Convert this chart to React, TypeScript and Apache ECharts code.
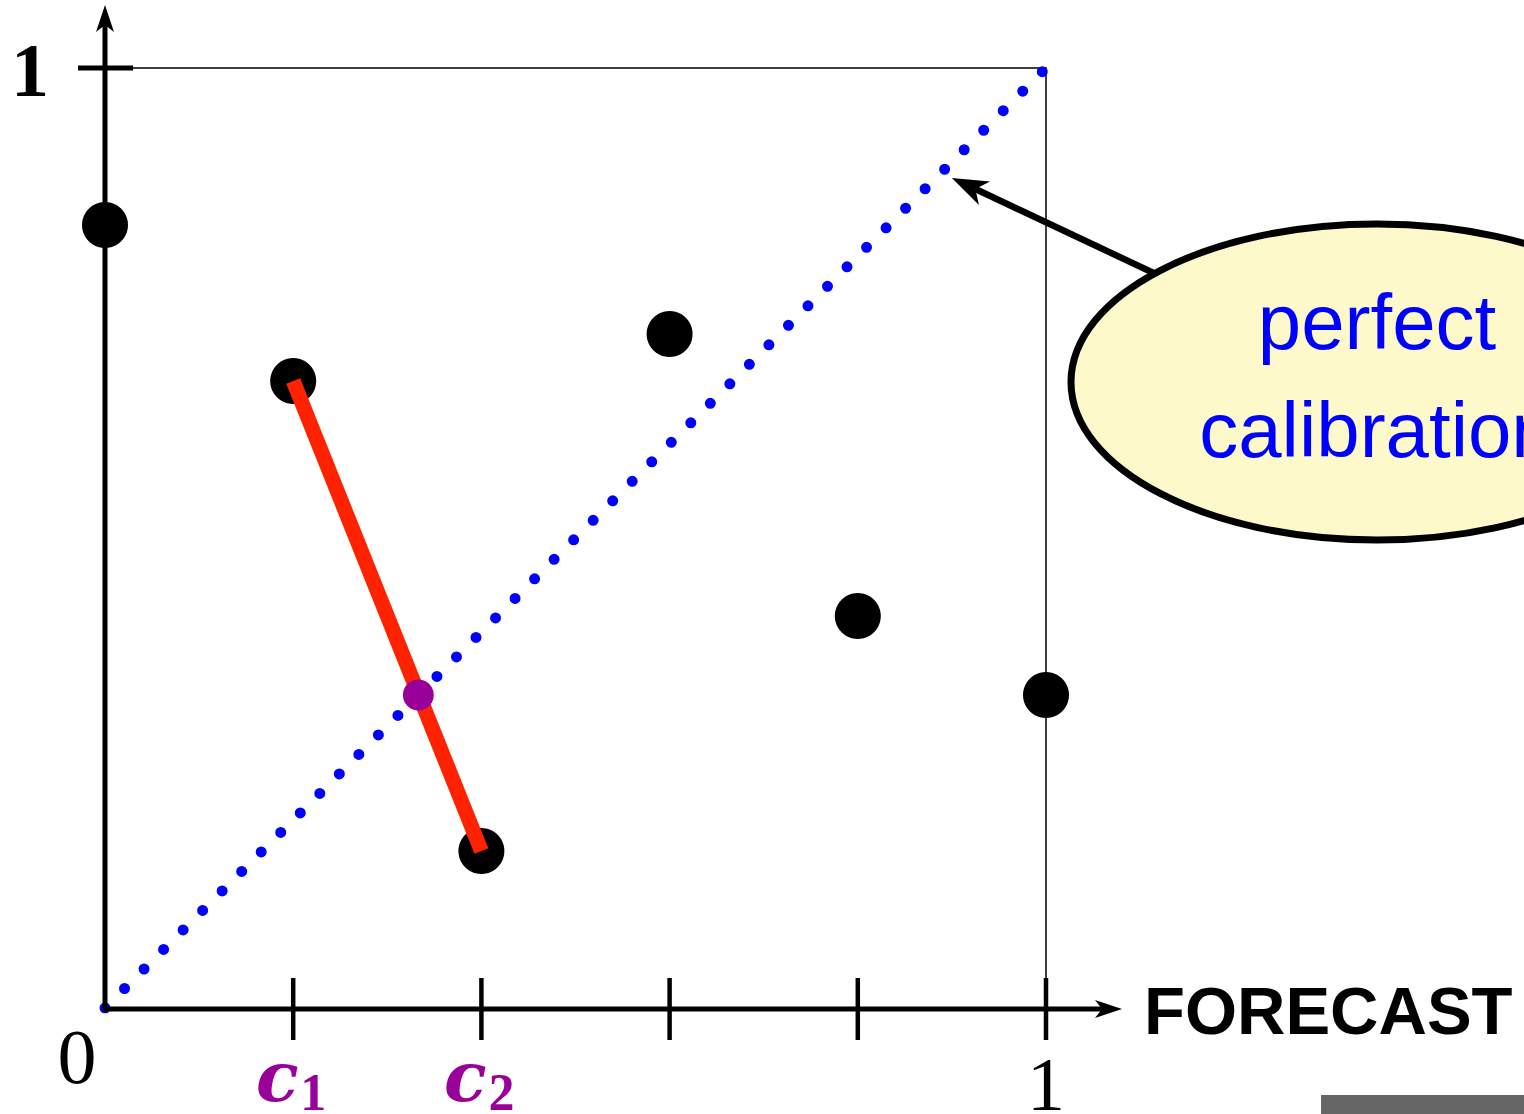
import React, { useEffect, useRef } from "react";
import * as echarts from "echarts";

// Observed frequency for each forecast bin
const forecastBins = [0, 0.2, 0.4, 0.6, 0.8, 1.0];
const observedFreq = [0.833, 0.667, 0.167, 0.717, 0.417, 0.333];

// Pooled pair of adjacent bins (c1, c2) and the point where their segment meets the diagonal
const pooledFrom = [0.2, 0.667];
const pooledTo = [0.4, 0.167];
const pooledCross = [0.333, 0.333];

// Perfect calibration diagonal
const diagonal = [
  [0, 0],
  [1, 1],
];

const xTickValues = [0.2, 0.4, 0.6, 0.8, 1.0];
const calloutTip = [0.9, 0.883];

const BLACK = "#000";
const PURPLE = "#990099";
const BLUE = "#0000ff";

export default function App() {
  const ref = useRef<HTMLDivElement>(null);

  useEffect(() => {
    const el = ref.current;
    if (!el) return;
    const chart = echarts.init(el, null, { renderer: "svg" });

    const hiddenAxis = {
      type: "value" as const,
      min: 0,
      max: 1,
      interval: 0.2,
      axisLine: { show: false },
      axisTick: { show: false },
      axisLabel: { show: false },
      splitLine: { show: false },
    };

    chart.setOption({
      animation: false,
      backgroundColor: "#fff",
      grid: {
        left: 105,
        top: 68,
        width: 941,
        height: 940,
        show: true,
        borderColor: BLACK,
        borderWidth: 1.5,
        backgroundColor: "transparent",
      },
      xAxis: hiddenAxis,
      yAxis: hiddenAxis,
      series: [
        {
          type: "line",
          data: diagonal,
          showSymbol: false,
          z: 2,
          lineStyle: { color: BLUE, width: 11, type: [0, 27.6], cap: "round" },
          silent: true,
        },
        {
          type: "scatter",
          data: forecastBins.map((x, i) => [x, observedFreq[i]]),
          symbolSize: 46,
          itemStyle: { color: BLACK, opacity: 1 },
          z: 3,
          silent: true,
        },
        {
          type: "line",
          data: [pooledFrom, pooledTo],
          showSymbol: false,
          z: 4,
          lineStyle: { color: "#ff2200", width: 15, cap: "butt" },
          silent: true,
        },
        {
          type: "scatter",
          data: [pooledCross],
          symbolSize: 31,
          itemStyle: { color: PURPLE, opacity: 1 },
          z: 5,
          silent: true,
        },
      ],
    });

    const px = (v: number[]) => chart.convertToPixel({ gridIndex: 0 }, v) as number[];
    const [x0, y0] = px([0, 0]);
    const [, y1] = px([0, 1]);

    const graphics: any[] = [];

    // axes with arrowheads
    graphics.push({
      type: "line",
      shape: { x1: x0, y1: y0 + 3.5, x2: x0, y2: 14 },
      style: { stroke: BLACK, lineWidth: 5 },
      z: 10,
    });
    graphics.push({
      type: "polygon",
      shape: { points: [[x0, 5], [x0 - 9, 32], [x0, 25], [x0 + 9, 32]] },
      style: { fill: BLACK },
      z: 10,
    });
    graphics.push({
      type: "line",
      shape: { x1: x0 - 2.5, y1: y0 + 1, x2: 1112, y2: y0 + 1 },
      style: { stroke: BLACK, lineWidth: 5 },
      z: 10,
    });
    graphics.push({
      type: "polygon",
      shape: {
        points: [[1122, y0 + 1], [1095, y0 - 8], [1102, y0 + 1], [1095, y0 + 10]],
      },
      style: { fill: BLACK },
      z: 10,
    });

    // x ticks crossing the axis
    xTickValues.forEach((v) => {
      const [tx] = px([v, 0]);
      graphics.push({
        type: "line",
        shape: { x1: tx, y1: y0 - 30, x2: tx, y2: y0 + 32 },
        style: { stroke: BLACK, lineWidth: 4.5 },
        z: 10,
      });
    });
    // y tick at 1
    graphics.push({
      type: "line",
      shape: { x1: x0 - 27, y1: y1, x2: x0 + 28, y2: y1 },
      style: { stroke: BLACK, lineWidth: 5 },
      z: 10,
    });

    // axis labels
    const serif = "'Liberation Serif', 'DejaVu Serif', serif";
    graphics.push({
      type: "text",
      style: {
        text: "0",
        x: x0 - 28,
        y: y0 + 48,
        font: `78px ${serif}`,
        fill: BLACK,
        align: "center",
        verticalAlign: "middle",
      },
      z: 10,
    });
    graphics.push({
      type: "text",
      style: {
        text: "1",
        x: 30,
        y: y1 + 2,
        font: `bold 76px ${serif}`,
        fill: BLACK,
        align: "center",
        verticalAlign: "middle",
      },
      z: 10,
    });
    const [x1px] = px([1, 0]);
    graphics.push({
      type: "text",
      style: {
        text: "1",
        x: x1px,
        y: y0 + 76,
        font: `76px ${serif}`,
        fill: BLACK,
        align: "center",
        verticalAlign: "middle",
      },
      z: 10,
    });
    [
      [0.2, "1"],
      [0.4, "2"],
    ].forEach(([v, sub]) => {
      const [cx] = px([v as number, 0]);
      graphics.push({
        type: "text",
        style: {
          text: "c",
          x: cx - 16,
          y: y0 + 68,
          font: `italic bold 70px 'DejaVu Serif', serif`,
          fill: PURPLE,
          align: "center",
          verticalAlign: "middle",
        },
        z: 10,
      });
      graphics.push({
        type: "text",
        style: {
          text: sub as string,
          x: cx + 20,
          y: y0 + 84,
          font: `bold 52px ${serif}`,
          fill: PURPLE,
          align: "center",
          verticalAlign: "middle",
        },
        z: 10,
      });
    });
    graphics.push({
      type: "text",
      style: {
        text: "FORECAST",
        x: 1144,
        y: y0 + 2,
        font: `bold 67px 'Liberation Sans', Arial, sans-serif`,
        fill: BLACK,
        align: "left",
        verticalAlign: "middle",
      },
      z: 10,
    });

    // callout pointing at the diagonal
    const [tipX, tipY] = px(calloutTip);
    const startX = 1160;
    const startY = 276;
    const dx = tipX - startX;
    const dy = tipY - startY;
    const len = Math.hypot(dx, dy);
    const ux = dx / len;
    const uy = dy / len;
    const nx = -uy;
    const ny = ux;
    const back = 36;
    const half = 13;
    const notch = 26;
    graphics.push({
      type: "line",
      shape: { x1: startX, y1: startY, x2: tipX - ux * notch, y2: tipY - uy * notch },
      style: { stroke: BLACK, lineWidth: 6.5 },
      z: 11,
    });
    graphics.push({
      type: "polygon",
      shape: {
        points: [
          [tipX, tipY],
          [tipX - ux * back + nx * half, tipY - uy * back + ny * half],
          [tipX - ux * notch, tipY - uy * notch],
          [tipX - ux * back - nx * half, tipY - uy * back - ny * half],
        ],
      },
      style: { fill: BLACK },
      z: 11,
    });
    graphics.push({
      type: "ellipse",
      shape: { cx: 1377, cy: 382, rx: 306, ry: 158 },
      style: { fill: "#fdf9cb", stroke: BLACK, lineWidth: 7 },
      z: 12,
    });
    graphics.push({
      type: "text",
      style: {
        text: "perfect",
        x: 1377,
        y: 322,
        font: `78px 'Liberation Sans', Arial, sans-serif`,
        fill: BLUE,
        align: "center",
        verticalAlign: "middle",
      },
      z: 13,
    });
    graphics.push({
      type: "text",
      style: {
        text: "calibration",
        x: 1377,
        y: 430,
        font: `78px 'Liberation Sans', Arial, sans-serif`,
        fill: BLUE,
        align: "center",
        verticalAlign: "middle",
      },
      z: 13,
    });

    // grey bar at the lower right
    graphics.push({
      type: "rect",
      shape: { x: 1321, y: 1095, width: 220, height: 20 },
      style: { fill: "#666666" },
      z: 10,
    });

    chart.setOption({ graphic: graphics });

    return () => chart.dispose();
  }, []);

  return (
    <div
      ref={ref}
      style={{ position: "absolute", left: 0, top: 0, width: 1524, height: 1114 }}
    />
  );
}
